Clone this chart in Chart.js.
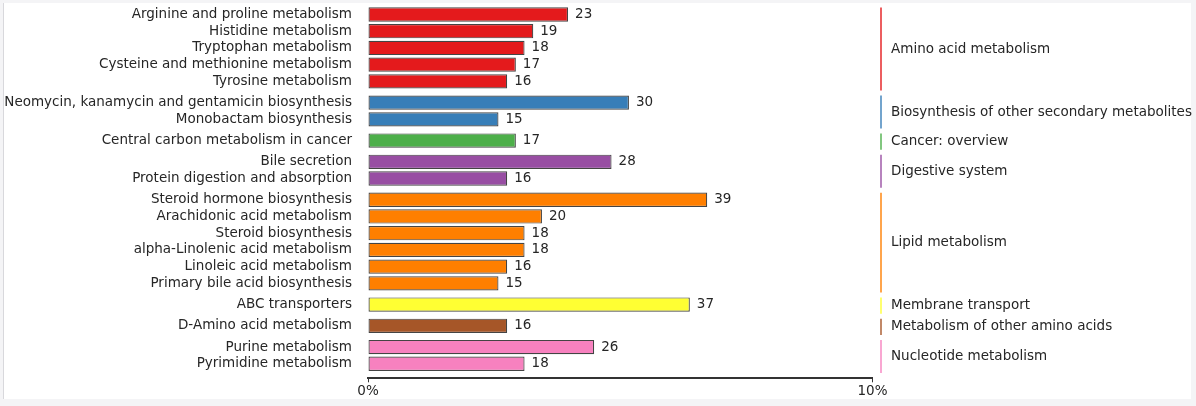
<!DOCTYPE html>
<html>
<head>
<meta charset="utf-8">
<script src="https://cdn.jsdelivr.net/npm/chart.js@4.4.1/dist/chart.umd.min.js"></script>
<style>
  html, body { margin: 0; padding: 0; background: #f4f4f6; }
  #c { display: block; }
</style>
</head>
<body>
<canvas id="c" width="1196" height="406"></canvas>
<script>
// ---- data ----
const pathways = [
  "Arginine and proline metabolism",
  "Histidine metabolism",
  "Tryptophan metabolism",
  "Cysteine and methionine metabolism",
  "Tyrosine metabolism",
  "Neomycin, kanamycin and gentamicin biosynthesis",
  "Monobactam biosynthesis",
  "Central carbon metabolism in cancer",
  "Bile secretion",
  "Protein digestion and absorption",
  "Steroid hormone biosynthesis",
  "Arachidonic acid metabolism",
  "Steroid biosynthesis",
  "alpha-Linolenic acid metabolism",
  "Linoleic acid metabolism",
  "Primary bile acid biosynthesis",
  "ABC transporters",
  "D-Amino acid metabolism",
  "Purine metabolism",
  "Pyrimidine metabolism"
];
const geneCounts = [23, 19, 18, 17, 16, 30, 15, 17, 28, 16, 39, 20, 18, 18, 16, 15, 37, 16, 26, 18];
const groupOf = [0, 0, 0, 0, 0, 1, 1, 2, 3, 3, 4, 4, 4, 4, 4, 4, 5, 6, 7, 7];
const groupNames = [
  "Amino acid metabolism",
  "Biosynthesis of other secondary metabolites",
  "Cancer: overview",
  "Digestive system",
  "Lipid metabolism",
  "Membrane transport",
  "Metabolism of other amino acids",
  "Nucleotide metabolism"
];
const groupColors = ["#e41a1c", "#377eb8", "#4daf4a", "#984ea3", "#ff7f00", "#ffff33", "#a65628", "#f781bf"];
const totalGenes = 580;           // 10% of the axis = 58 genes
const xTickPercents = [0, 10];

// ---- layout helpers ----
const GROUP_GAP = 0.27;
const FONT = "'DejaVu Sans', sans-serif";
const TEXT = '#262626';
const positions = pathways.map((_, i) => i + groupOf[i] * GROUP_GAP);
const lastPos = positions[positions.length - 1];
const xTickValues = xTickPercents.map(p => p / 100 * totalGenes);

function hexA(hex, a) {
  const n = parseInt(hex.slice(1), 16);
  return `rgba(${(n >> 16) & 255},${(n >> 8) & 255},${n & 255},${a})`;
}

const framePlugin = {
  id: 'frame',
  beforeDraw(chart) {
    const ctx = chart.ctx;
    ctx.save();
    ctx.fillStyle = '#f4f4f6';
    ctx.fillRect(0, 0, chart.width, chart.height);
    ctx.fillStyle = '#ffffff';
    ctx.fillRect(4, 3, 1187, 396);
    ctx.fillStyle = '#d8d8dc';
    ctx.fillRect(3, 3, 1, 396);
    ctx.restore();
  }
};

const annotatePlugin = {
  id: 'annotate',
  afterDatasetsDraw(chart) {
    const ctx = chart.ctx;
    const meta = chart.getDatasetMeta(0);
    const yScale = chart.scales.y;
    ctx.save();
    ctx.font = `13.5px ${FONT}`;
    ctx.fillStyle = TEXT;
    ctx.textBaseline = 'middle';
    // value labels
    ctx.textAlign = 'left';
    meta.data.forEach((bar, i) => {
      ctx.fillText(String(geneCounts[i]), bar.x + 7, bar.y);
    });
    // group brackets
    const lineX = 881;
    groupNames.forEach((name, g) => {
      const idx = groupOf.map((v, i) => v === g ? i : -1).filter(i => i >= 0);
      const top = yScale.getPixelForValue(positions[idx[0]] - 0.42);
      const bot = yScale.getPixelForValue(positions[idx[idx.length - 1]] + 0.55);
      ctx.strokeStyle = hexA(groupColors[g], 0.7);
      ctx.lineWidth = 2;
      ctx.beginPath();
      ctx.moveTo(lineX, top);
      ctx.lineTo(lineX, bot);
      ctx.stroke();
      ctx.fillStyle = TEXT;
      ctx.fillText(name, 891, (top + bot) / 2);
    });
    ctx.restore();
  }
};

new Chart(document.getElementById('c'), {
  type: 'bar',
  data: {
    datasets: [{
      data: geneCounts.map((v, i) => ({ x: v, y: positions[i] })),
      backgroundColor: groupOf.map(g => groupColors[g]),
      borderColor: 'rgba(35,35,35,0.85)',
      borderWidth: 1.2,
      borderSkipped: false,
      categoryPercentage: 1,
      barPercentage: 0.855
    }]
  },
  options: {
    indexAxis: 'y',
    responsive: false,
    animation: false,
    devicePixelRatio: 1,
    layout: { padding: { top: 6.14, right: 323.5, bottom: 0, left: 0 } },
    plugins: { legend: { display: false }, tooltip: { enabled: false } },
    scales: {
      y: {
        type: 'linear',
        reverse: true,
        offset: false,
        min: -0.5,
        max: lastPos + 0.87,
        grid: { display: false, drawTicks: false, offset: false },
        border: { display: false },
        afterBuildTicks(scale) { scale.ticks = positions.map(v => ({ value: v })); },
        afterFit(scale) { scale.width = 368; scale.paddingTop = 0; scale.paddingBottom = 0; },
        ticks: {
          autoSkip: false,
          padding: 16,
          color: TEXT,
          font: { family: FONT, size: 13.5 },
          callback: (v, i) => pathways[i]
        }
      },
      x: {
        type: 'linear',
        min: 0,
        max: xTickValues[xTickValues.length - 1],
        grid: { drawOnChartArea: false, drawTicks: true, tickLength: 4, color: '#333', lineWidth: 1 },
        border: { display: true, color: '#333', width: 2 },
        afterBuildTicks(scale) { scale.ticks = xTickValues.map(v => ({ value: v })); },
        afterFit(scale) { scale.height = 406 - 378.3; scale.paddingLeft = 0; scale.paddingRight = 0; },
        ticks: {
          autoSkip: false,
          padding: 1,
          maxRotation: 0,
          color: TEXT,
          font: { family: FONT, size: 13.5 },
          callback: (v) => (v / totalGenes * 100).toFixed(0) + '%'
        }
      }
    }
  },
  plugins: [framePlugin, annotatePlugin]
});
</script>
</body>
</html>
